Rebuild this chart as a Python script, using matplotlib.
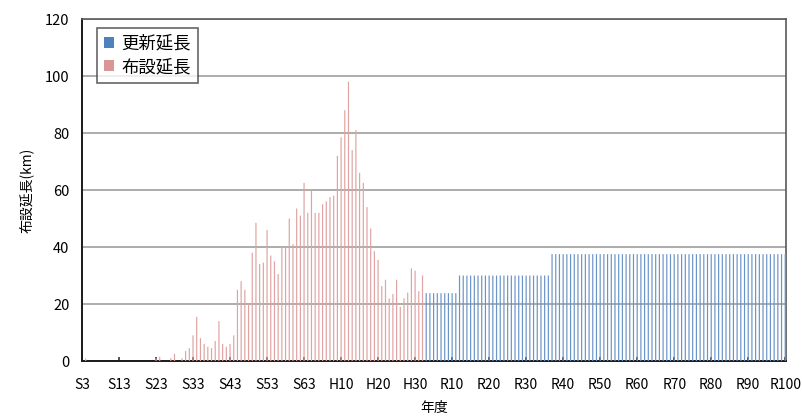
import matplotlib
matplotlib.use("Agg")
import matplotlib.pyplot as plt
from matplotlib.patches import Patch
import numpy as np

plt.rcParams['font.family'] = ['Noto Sans CJK JP', 'DejaVu Sans']

# x-axis tick labels (every 10 fiscal years, S3 .. R100)
tick_labels = ["S3", "S13", "S23", "S33", "S43", "S53", "S63", "H10", "H20", "H30",
               "R10", "R20", "R30", "R40", "R50", "R60", "R70", "R80", "R90", "R100"]

# 布設延長 (km), fiscal years S3 (index 0) .. R2 (index 92)
laying = [0, 0.8, 0, 0, 0, 0, 0, 0, 0, 0,
          0, 0, 0, 0, 0, 0, 0, 0, 0, 0,
          1, 1.5, 0, 0, 1, 2.5, 0, 1, 3.5, 4.5,
          9, 15.5, 8, 6, 5, 4.5, 7, 14, 6, 5,
          6, 9, 25, 28, 25, 20, 38, 48.5, 34, 34.5,
          46, 37, 35, 30.5, 40, 40, 50, 41, 53.5, 51,
          62.5, 52, 60, 52, 52, 55, 56, 57.5, 58, 72,
          78.5, 88, 98, 74, 81, 66, 62.5, 54, 46.5, 38.5,
          35.5, 26.3, 28.5, 22, 23.5, 28.5, 19, 22, 24, 32.5,
          31.7, 24.5, 30]

# 更新延長 (km), fiscal years R3 (index 93) .. R100 (index 190)
renewal = [23.8, 23.8, 23.8, 23.8, 23.8, 23.8, 23.8, 23.8, 23.8,
           30, 30, 30, 30, 30, 30, 30, 30, 30, 30,
           30, 30, 30, 30, 30, 30, 30, 30, 30, 30,
           30, 30, 30, 30, 30,
           37.5, 37.5, 37.5, 37.5, 37.5, 37.5, 37.5, 37.5, 37.5, 37.5,
           37.5, 37.5, 37.5, 37.5, 37.5, 37.5, 37.5, 37.5, 37.5, 37.5,
           37.5, 37.5, 37.5, 37.5, 37.5, 37.5, 37.5, 37.5, 37.5, 37.5,
           37.5, 37.5, 37.5, 37.5, 37.5, 37.5, 37.5, 37.5, 37.5, 37.5,
           37.5, 37.5, 37.5, 37.5, 37.5, 37.5, 37.5, 37.5, 37.5, 37.5,
           37.5, 37.5, 37.5, 37.5, 37.5, 37.5, 37.5, 37.5, 37.5, 37.5,
           37.5, 37.5, 37.5, 37.5]

pink = '#D99694'
blue = '#4F81BD'
pink_bar = '#DFA3A2'
blue_bar = '#6A93C6'

fig = plt.figure(figsize=(8.03, 4.16), dpi=100)
ax = fig.add_axes([0.1021, 0.1322, 0.8767, 0.8221])

x_lay = np.arange(len(laying))
x_ren = np.arange(len(laying), len(laying) + len(renewal))
ax.bar(x_lay, laying, width=0.32, color=pink_bar, linewidth=0, zorder=3, snap=False)
ax.bar(x_ren, renewal, width=0.32, color=blue_bar, linewidth=0, zorder=3, snap=False)

ax.set_xlim(0, 190.2)
ax.set_ylim(0, 120)
ax.set_yticks(np.arange(0, 121, 20))
ax.set_xticks(np.arange(0, 191, 10))
ax.set_xticklabels(tick_labels, fontsize=10)
ax.tick_params(axis='y', labelsize=10.5, length=0, pad=9)
ax.tick_params(axis='x', direction='in', length=3, width=1.2, color='#333333', pad=12)

ax.grid(axis='y', color='#A6A6A6', linewidth=1.3, zorder=0)
ax.set_axisbelow(True)
for side in ['top', 'right']:
    ax.spines[side].set_color('#595959')
    ax.spines[side].set_linewidth(1.2)
for side in ['left', 'bottom']:
    ax.spines[side].set_color('#1a1a1a')
    ax.spines[side].set_linewidth(1.4)

ax.set_ylabel('布設延長(km)', fontsize=10, labelpad=8)
ax.set_xlabel('年度', fontsize=10, labelpad=7)

handles = [Patch(facecolor=blue, edgecolor='none', label='更新延長'),
           Patch(facecolor=pink, edgecolor='none', label='布設延長')]
leg = ax.legend(handles=handles, loc='upper left', bbox_to_anchor=(0.021, 0.974),
                borderaxespad=0, fontsize=12.5, frameon=True, fancybox=False,
                handlelength=0.6, handleheight=0.6, handletextpad=0.4,
                borderpad=0.4, labelspacing=0.3)
leg.get_frame().set_edgecolor('#404040')
leg.get_frame().set_linewidth(1.2)

fig.savefig('out.png', dpi=100)
